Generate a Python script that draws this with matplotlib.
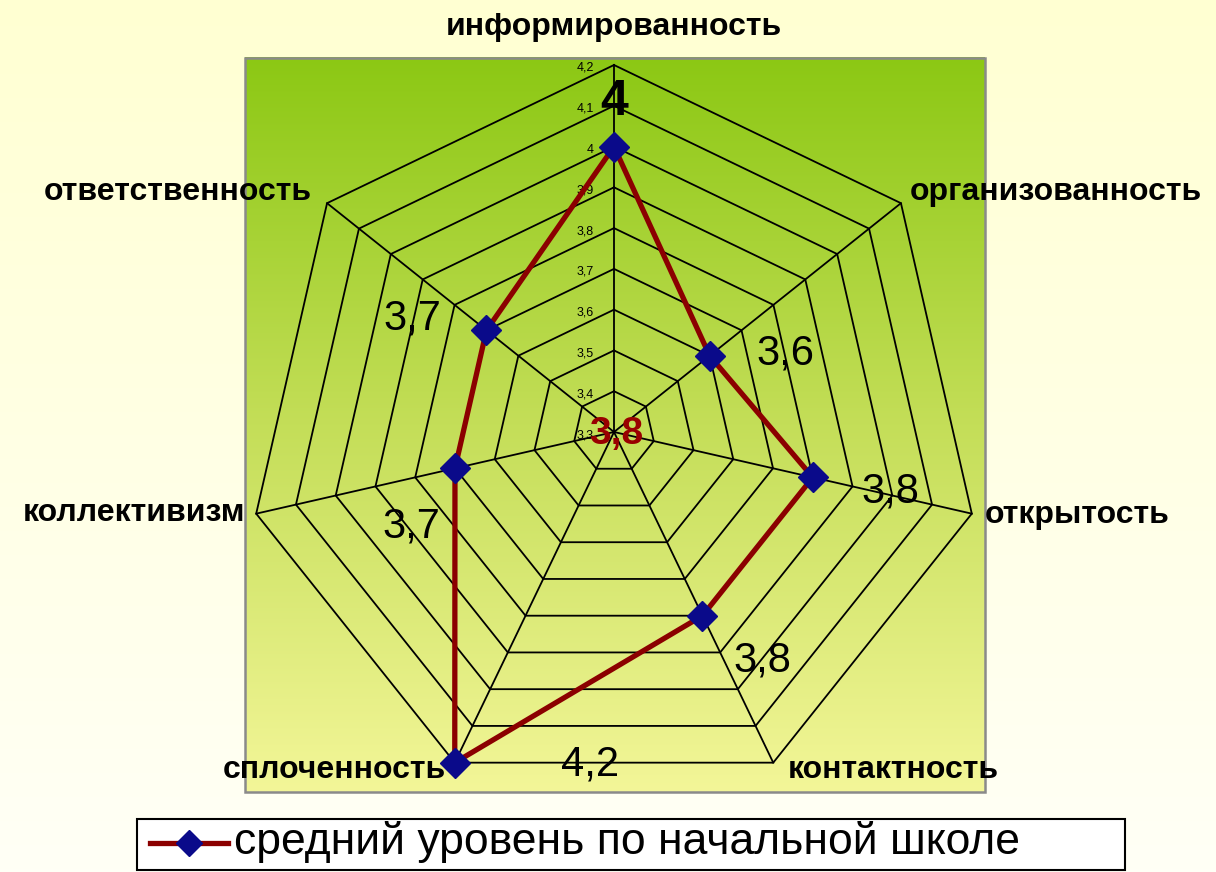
import numpy as np
import matplotlib
matplotlib.use("Agg")
import matplotlib.pyplot as plt
from matplotlib.colors import LinearSegmentedColormap
from matplotlib.patches import Rectangle

plt.rcParams['font.family'] = ['Liberation Sans', 'DejaVu Sans']

# data
categories = ['информированность', 'организованность', 'открытость', 'контактность',
              'сплоченность', 'коллективизм', 'ответственность']
values = [4.0, 3.6, 3.8, 3.8, 4.2, 3.7, 3.7]
value_labels = ['4', '3,6', '3,8', '3,8', '4,2', '3,7', '3,7']
r_ticks = [3.3, 3.4, 3.5, 3.6, 3.7, 3.8, 3.9, 4.0, 4.1, 4.2]
r_tick_labels = ['3,3', '3,4', '3,5', '3,6', '3,7', '3,8', '3,9', '4', '4,1', '4,2']
series_name = 'средний уровень по начальной школе'

# layout (pixels, y down)
W, H = 1216, 872
cx, cy = 614, 432
R = 367
rmin, rmax = 3.3, 4.2
n = len(categories)
angles = np.arange(n) * 2 * np.pi / n


def to_xy(v, a):
    r = (np.asarray(v) - rmin) / (rmax - rmin) * R
    return cx + r * np.sin(a), cy - r * np.cos(a)


fig = plt.figure(figsize=(W / 100, H / 100), dpi=100)
ax = fig.add_axes([0, 0, 1, 1])
ax.set_xlim(0, W)
ax.set_ylim(H, 0)
ax.axis('off')

# page background
bg = LinearSegmentedColormap.from_list('bg', ['#ffffd2', '#fffff6'])
ax.imshow(np.linspace(0, 1, 256).reshape(-1, 1), cmap=bg, aspect='auto',
          extent=[0, W, H, 0], zorder=0)

# plot area gradient
pa = LinearSegmentedColormap.from_list('pa', ['#8cc814', '#c4de58', '#f3f698'])
ax.imshow(np.linspace(0, 1, 256).reshape(-1, 1), cmap=pa, aspect='auto',
          extent=[245, 985, 792, 58], zorder=1)
ax.add_patch(Rectangle((245, 58), 740, 734, fill=False, ec='#8a8a8a', lw=1.8, zorder=2))

# grid polygons and spokes
for t in r_ticks[1:]:
    xs, ys = to_xy(np.full(n + 1, t), np.append(angles, angles[0]))
    ax.plot(xs, ys, color='black', lw=1.3, zorder=3)
for a in angles:
    xs, ys = to_xy([rmin, rmax], [a, a])
    ax.plot(xs, ys, color='black', lw=1.3, zorder=3)

# radial tick labels
for t, lab in zip(r_ticks, r_tick_labels):
    x, y = to_xy(t, 0)
    ax.text(x - 20, y + 3, lab, ha='right', va='center', fontsize=9, zorder=4)

# series
xs, ys = to_xy(np.append(values, values[0]), np.append(angles, angles[0]))
ax.plot(xs, ys, color='#8b0000', lw=3.8, zorder=5)
ax.plot(xs[:-1], ys[:-1], 'D', color='#0a0a8a', ms=15, zorder=6)

# value labels
offsets = [(0, 45), (76, 2), (78, -14), (60, -45), (135, -2), (-44, -58), (-74, 12)]
for x, y, lab, off in zip(xs[:-1], ys[:-1], value_labels, offsets):
    fs = 36 if lab == '4' else 30
    ax.annotate(lab, (x, y), xytext=off, textcoords='offset pixels',
                ha='center', va='center', fontsize=fs,
                fontweight='bold' if lab == '4' else 'normal', zorder=7)

# stray label at the centre
ax.text(cx + 2, cy + 2, '3,8', ha='center', va='center', fontsize=28,
        fontweight='bold', color='#990000', zorder=7)

# category labels
cat_pos = [(614, 27, 'center'), (1056, 192, 'center'), (985, 515, 'left'),
           (893, 770, 'center'), (446, 770, 'right'), (245, 513, 'right'),
           (312, 192, 'right')]
for lab, (x, y, ha) in zip(categories, cat_pos):
    ax.text(x, y, lab, ha=ha, va='center', fontsize=23, fontweight='bold', zorder=7)

# legend
ax.add_patch(Rectangle((137, 819), 988, 51, fc='white', ec='black', lw=1.5, zorder=8))
ax.plot([150, 228], [843, 843], color='#8b0000', lw=3.8, zorder=9)
ax.plot([189], [843], 'D', color='#0a0a8a', ms=13, zorder=10)
ax.text(234, 842, series_name, ha='left', va='center', fontsize=32, zorder=9)

fig.savefig('out.png', dpi=100)
